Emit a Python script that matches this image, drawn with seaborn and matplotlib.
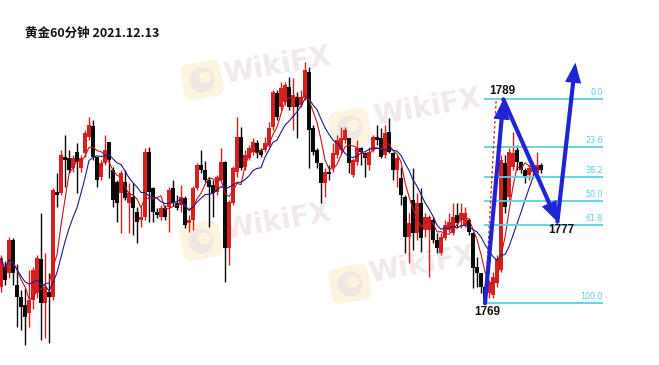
import numpy as np
import pandas as pd
import matplotlib
matplotlib.use("Agg")
import matplotlib.pyplot as plt
import matplotlib.transforms as mtransforms
from matplotlib.patches import FancyBboxPatch, Circle, FancyArrowPatch
import seaborn as sns

# ---------------- data ----------------
title = "黄金60分钟 2021.12.13"

opens = [1770.6, 1772.6, 1772.0, 1775.2, 1770.8, 1769.6, 1768.8, 1768.0, 1769.3, 1770.0,
         1773.3, 1769.0, 1770.1, 1769.6, 1779.9, 1779.8, 1783.3, 1783.2, 1782.3, 1783.8,
         1782.3, 1783.7, 1785.3, 1786.4, 1783.3, 1781.4, 1782.8, 1784.8, 1782.1, 1780.9,
         1779.8, 1780.9, 1778.8, 1779.4, 1778.0, 1777.2, 1777.5, 1783.8, 1780.3, 1778.0,
         1777.5, 1778.3, 1778.4, 1780.3, 1778.8, 1778.6, 1779.3, 1776.9, 1777.2, 1780.3,
         1782.6, 1782.1, 1781.1, 1780.6, 1779.9, 1781.1, 1782.9, 1774.4, 1778.8, 1781.9,
         1785.3, 1782.4, 1783.2, 1783.8, 1784.7, 1784.0, 1784.0, 1784.5, 1786.3, 1789.6,
         1788.2, 1788.7, 1790.2, 1788.2, 1789.2, 1788.4, 1789.1, 1791.7, 1786.2, 1784.0,
         1782.8, 1780.8, 1781.9, 1782.3, 1783.5, 1784.0, 1785.0, 1785.2, 1781.6, 1782.9,
         1784.2, 1783.7, 1782.6, 1784.0, 1785.3, 1785.2, 1783.5, 1785.8, 1783.7, 1782.1,
         1781.3, 1779.4, 1775.5, 1779.1, 1775.9, 1778.8, 1776.2, 1776.2, 1777.2, 1775.2,
         1773.9, 1775.4, 1776.2, 1775.9, 1777.7, 1777.2, 1776.7, 1777.2, 1775.9, 1772.6,
         1772.0, 1770.6, 1770.0, 1769.8, 1771.0, 1772.3, 1782.8, 1779.4, 1782.4, 1784.0,
         1782.9, 1782.1, 1781.6, 1781.9, 1781.8, 1782.6]
highs = [1773.7, 1773.1, 1775.5, 1775.4, 1772.9, 1770.3, 1770.5, 1772.3, 1772.6, 1773.7,
         1777.9, 1773.9, 1772.0, 1780.3, 1781.8, 1784.0, 1785.5, 1784.0, 1783.5, 1784.7,
         1783.5, 1786.0, 1787.3, 1787.0, 1783.3, 1783.1, 1785.5, 1784.8, 1782.4, 1781.1,
         1782.1, 1782.1, 1780.8, 1780.8, 1778.4, 1778.4, 1784.2, 1784.3, 1780.4, 1778.3,
         1778.6, 1778.6, 1780.4, 1781.1, 1779.6, 1780.6, 1779.5, 1777.7, 1780.5, 1782.8,
         1784.0, 1783.0, 1781.4, 1781.1, 1781.6, 1784.2, 1783.0, 1779.1, 1782.5, 1787.3,
         1786.3, 1784.0, 1784.5, 1785.2, 1785.0, 1784.2, 1785.3, 1786.8, 1789.9, 1789.9,
         1790.7, 1790.7, 1791.2, 1791.1, 1789.7, 1789.9, 1792.7, 1792.2, 1786.5, 1784.2,
         1782.8, 1782.3, 1782.6, 1784.7, 1785.5, 1786.3, 1786.3, 1785.2, 1783.2, 1785.0,
         1784.3, 1783.8, 1784.3, 1785.5, 1786.5, 1786.2, 1786.5, 1787.2, 1783.8, 1783.5,
         1782.4, 1779.6, 1777.9, 1782.3, 1779.8, 1780.3, 1777.9, 1777.7, 1777.5, 1775.9,
         1775.9, 1777.2, 1777.9, 1778.8, 1778.8, 1778.8, 1778.4, 1777.4, 1776.0, 1773.5,
         1772.0, 1770.8, 1771.3, 1772.1, 1773.7, 1783.5, 1783.5, 1784.2, 1785.8, 1784.5,
         1783.0, 1782.3, 1782.6, 1782.9, 1783.8, 1782.8]
lows = [1770.1, 1770.8, 1771.5, 1770.8, 1766.7, 1766.4, 1764.9, 1766.7, 1768.4, 1769.5,
        1765.4, 1765.6, 1765.1, 1769.3, 1778.4, 1779.6, 1780.4, 1781.8, 1781.9, 1779.8,
        1781.9, 1783.3, 1785.0, 1783.1, 1780.4, 1781.1, 1782.6, 1781.3, 1778.4, 1777.0,
        1775.9, 1779.1, 1775.9, 1775.7, 1774.9, 1776.5, 1777.2, 1777.0, 1777.0, 1777.4,
        1777.2, 1777.2, 1776.0, 1778.5, 1778.1, 1778.0, 1776.4, 1776.0, 1776.2, 1780.1,
        1781.8, 1780.9, 1776.5, 1777.5, 1779.6, 1780.9, 1771.1, 1772.8, 1778.6, 1781.4,
        1782.1, 1782.1, 1783.1, 1783.5, 1783.2, 1783.3, 1783.8, 1784.3, 1786.0, 1787.0,
        1788.0, 1788.4, 1788.0, 1786.0, 1785.2, 1788.2, 1788.9, 1782.3, 1783.5, 1782.3,
        1778.8, 1779.4, 1781.1, 1781.9, 1783.2, 1783.7, 1784.7, 1781.8, 1781.4, 1782.6,
        1782.6, 1781.4, 1782.1, 1783.8, 1784.5, 1783.2, 1783.2, 1783.7, 1781.1, 1780.4,
        1778.6, 1773.9, 1773.0, 1774.2, 1775.2, 1774.0, 1775.5, 1771.6, 1774.9, 1773.9,
        1773.7, 1775.2, 1776.0, 1775.7, 1776.5, 1776.4, 1776.5, 1775.7, 1770.5, 1770.6,
        1770.0, 1769.0, 1769.5, 1769.5, 1770.6, 1772.1, 1777.9, 1779.1, 1782.1, 1782.1,
        1781.8, 1780.8, 1781.1, 1781.3, 1781.1, 1781.8]
closes = [1773.4, 1771.3, 1775.2, 1772.0, 1769.6, 1768.6, 1767.7, 1769.3, 1772.3, 1773.4,
          1769.0, 1770.6, 1769.6, 1780.1, 1779.6, 1783.5, 1783.1, 1782.1, 1783.2, 1782.9,
          1783.2, 1785.7, 1786.5, 1783.3, 1781.1, 1782.8, 1784.0, 1783.1, 1779.1, 1778.8,
          1781.8, 1779.3, 1779.8, 1778.3, 1777.0, 1777.5, 1783.8, 1779.9, 1778.0, 1777.7,
          1778.3, 1777.5, 1780.1, 1778.8, 1778.3, 1779.4, 1776.7, 1777.2, 1780.3, 1782.6,
          1782.1, 1781.1, 1780.4, 1779.8, 1781.4, 1782.9, 1774.4, 1778.9, 1782.3, 1785.3,
          1782.3, 1783.5, 1784.2, 1784.8, 1783.7, 1783.5, 1784.7, 1786.2, 1789.7, 1787.3,
          1790.1, 1790.4, 1788.2, 1789.4, 1788.2, 1789.2, 1791.9, 1786.0, 1783.8, 1782.8,
          1780.8, 1781.9, 1781.7, 1783.7, 1785.0, 1785.2, 1786.0, 1782.8, 1783.1, 1784.2,
          1783.8, 1783.2, 1783.8, 1785.3, 1785.0, 1783.3, 1785.7, 1783.8, 1782.1, 1783.2,
          1779.6, 1775.5, 1776.9, 1775.9, 1778.8, 1775.4, 1777.5, 1777.5, 1775.2, 1774.4,
          1775.5, 1776.7, 1777.0, 1777.5, 1776.9, 1777.9, 1777.9, 1776.0, 1772.5, 1772.0,
          1770.6, 1769.3, 1771.0, 1771.6, 1773.3, 1783.1, 1778.4, 1783.8, 1783.7, 1782.9,
          1782.1, 1781.4, 1782.3, 1782.6, 1782.6, 1782.1]

fib_ratios = [0.0, 23.6, 38.2, 50.0, 61.8, 100.0]
fib_labels = ["0.0", "23.6", "38.2", "50.0", "61.8", "100.0"]
fib_high = 1789
fib_low = 1769

wave_x = [121.0, 125.6, 139.1, 143.6]
wave_price = [1769.0, 1789.0, 1777.0, 1792.6]
wave_labels = ["1769", "1789", "1777"]

# ---------------- style ----------------
sns.set_theme(style="white")
plt.rcParams['font.family'] = ['Noto Sans CJK SC', 'DejaVu Sans']

RED = "#d91e1e"
BLACK = "#0a0a0a"
MA_RED = "#c0161c"
MA_BLUE = "#1c1c86"
CYAN = "#5ccfe4"
ARROW = "#1f24d4"

W, H = 659, 365
fig = plt.figure(figsize=(W / 100, H / 100), dpi=100)
ax = fig.add_axes([0, 0, 1, 1])
fig.patch.set_facecolor("white")

# ---------------- watermarks ----------------
def px(x, y):
    return x / 100.0, (H - y) / 100.0

def watermark(lx, ly, tx, ty):
    rot = mtransforms.Affine2D().rotate_deg_around(*px(lx, ly), 10) + fig.dpi_scale_trans
    bx, by = px(lx - 20, ly + 18)
    box = FancyBboxPatch((bx, by), 0.40, 0.36, boxstyle="round,pad=0,rounding_size=0.08",
                         facecolor="#fdf4e0", edgecolor="none", transform=rot, zorder=0.5)
    ax.add_patch(box)
    cx, cy = px(lx, ly)
    ax.add_patch(Circle((cx, cy), 0.125, facecolor="#efe8e2", edgecolor="none",
                        transform=rot, zorder=0.6))
    ax.add_patch(Circle((cx + 0.035, cy + 0.02), 0.06, facecolor="#fdf4e0", edgecolor="none",
                        transform=rot, zorder=0.7))
    ax.text(tx / W, 1 - ty / H, "WikiFX", transform=ax.transAxes, rotation=10,
            ha="center", va="center", fontsize=20, fontweight="bold",
            color="#f1e8e8", family=["DejaVu Sans"], zorder=0.5)

watermark(202, 80, 277, 66)
watermark(201, 241, 277, 222)
watermark(350, 128, 427, 108)
watermark(350, 284, 422, 265)

# ---------------- candles ----------------
df = pd.DataFrame({"idx": np.arange(len(closes)), "open": opens, "high": highs,
                   "low": lows, "close": closes})
df["up"] = df["close"] >= df["open"]
df["color"] = np.where(df["up"], RED, BLACK)
df["bottom"] = df[["open", "close"]].min(axis=1)
df["height"] = (df["close"] - df["open"]).abs().clip(lower=0.15)

ax.vlines(df["idx"], df["low"], df["high"], colors=df["color"], linewidth=1.0, zorder=2)
ax.bar(df["idx"], df["height"], bottom=df["bottom"], width=0.8, color=df["color"],
       linewidth=0, zorder=3)

# moving averages
df["ma_fast"] = df["close"].rolling(5, min_periods=1).mean()
df["ma_slow"] = df["close"].rolling(10, min_periods=1).mean()
sns.lineplot(data=df, x="idx", y="ma_fast", ax=ax, color=MA_RED, linewidth=0.8, zorder=4)
sns.lineplot(data=df, x="idx", y="ma_slow", ax=ax, color=MA_BLUE, linewidth=0.8, zorder=4)

# ---------------- fibonacci ----------------
fib_x0, fib_x1 = 120.8, 150.5
for r, lab in zip(fib_ratios, fib_labels):
    p = fib_high - r / 100.0 * (fib_high - fib_low)
    ax.hlines(p, fib_x0, fib_x1, color=CYAN, linewidth=1.3, zorder=5)
    ax.text(fib_x1, p + 0.25, lab, ha="right", va="bottom", fontsize=5.8,
            color=CYAN, family=["DejaVu Sans"], zorder=6)

# fib trend line (dotted red)
ax.plot([wave_x[0], wave_x[0] + 2.8], [fib_low, fib_high], color=RED,
        linestyle=(0, (2, 2)), linewidth=0.9, zorder=5)

# ---------------- wave arrows ----------------
for k in range(3):
    arr = FancyArrowPatch((wave_x[k], wave_price[k]), (wave_x[k + 1], wave_price[k + 1]),
                          arrowstyle="-|>,head_length=0.5,head_width=0.2",
                          mutation_scale=18, linewidth=3.0, color=ARROW,
                          shrinkA=0, shrinkB=0, zorder=7, joinstyle="miter")
    ax.add_patch(arr)

lab_font = dict(fontsize=8.5, fontweight="bold", color="#111111",
                family=["Liberation Sans", "DejaVu Sans"], zorder=8)
ax.text(wave_x[0] + 0.6, wave_price[0] - 0.25, wave_labels[0], ha="center", va="top", **lab_font)
ax.text(wave_x[1] - 0.2, wave_price[1] + 0.25, wave_labels[1], ha="center", va="bottom", **lab_font)
ax.text(wave_x[2] + 0.9, wave_price[2] - 0.2, wave_labels[2], ha="center", va="top", **lab_font)

# ---------------- title ----------------
fig.text(25 / W, 1 - 33 / H, title, ha="left", va="center", fontsize=9,
         fontweight="bold", color="#111111")

ax.set_xlim(-0.25, 164.5)
ax.set_ylim(1762.95, 1798.74)
ax.axis("off")

fig.savefig("out.png", dpi=100, facecolor="white")
